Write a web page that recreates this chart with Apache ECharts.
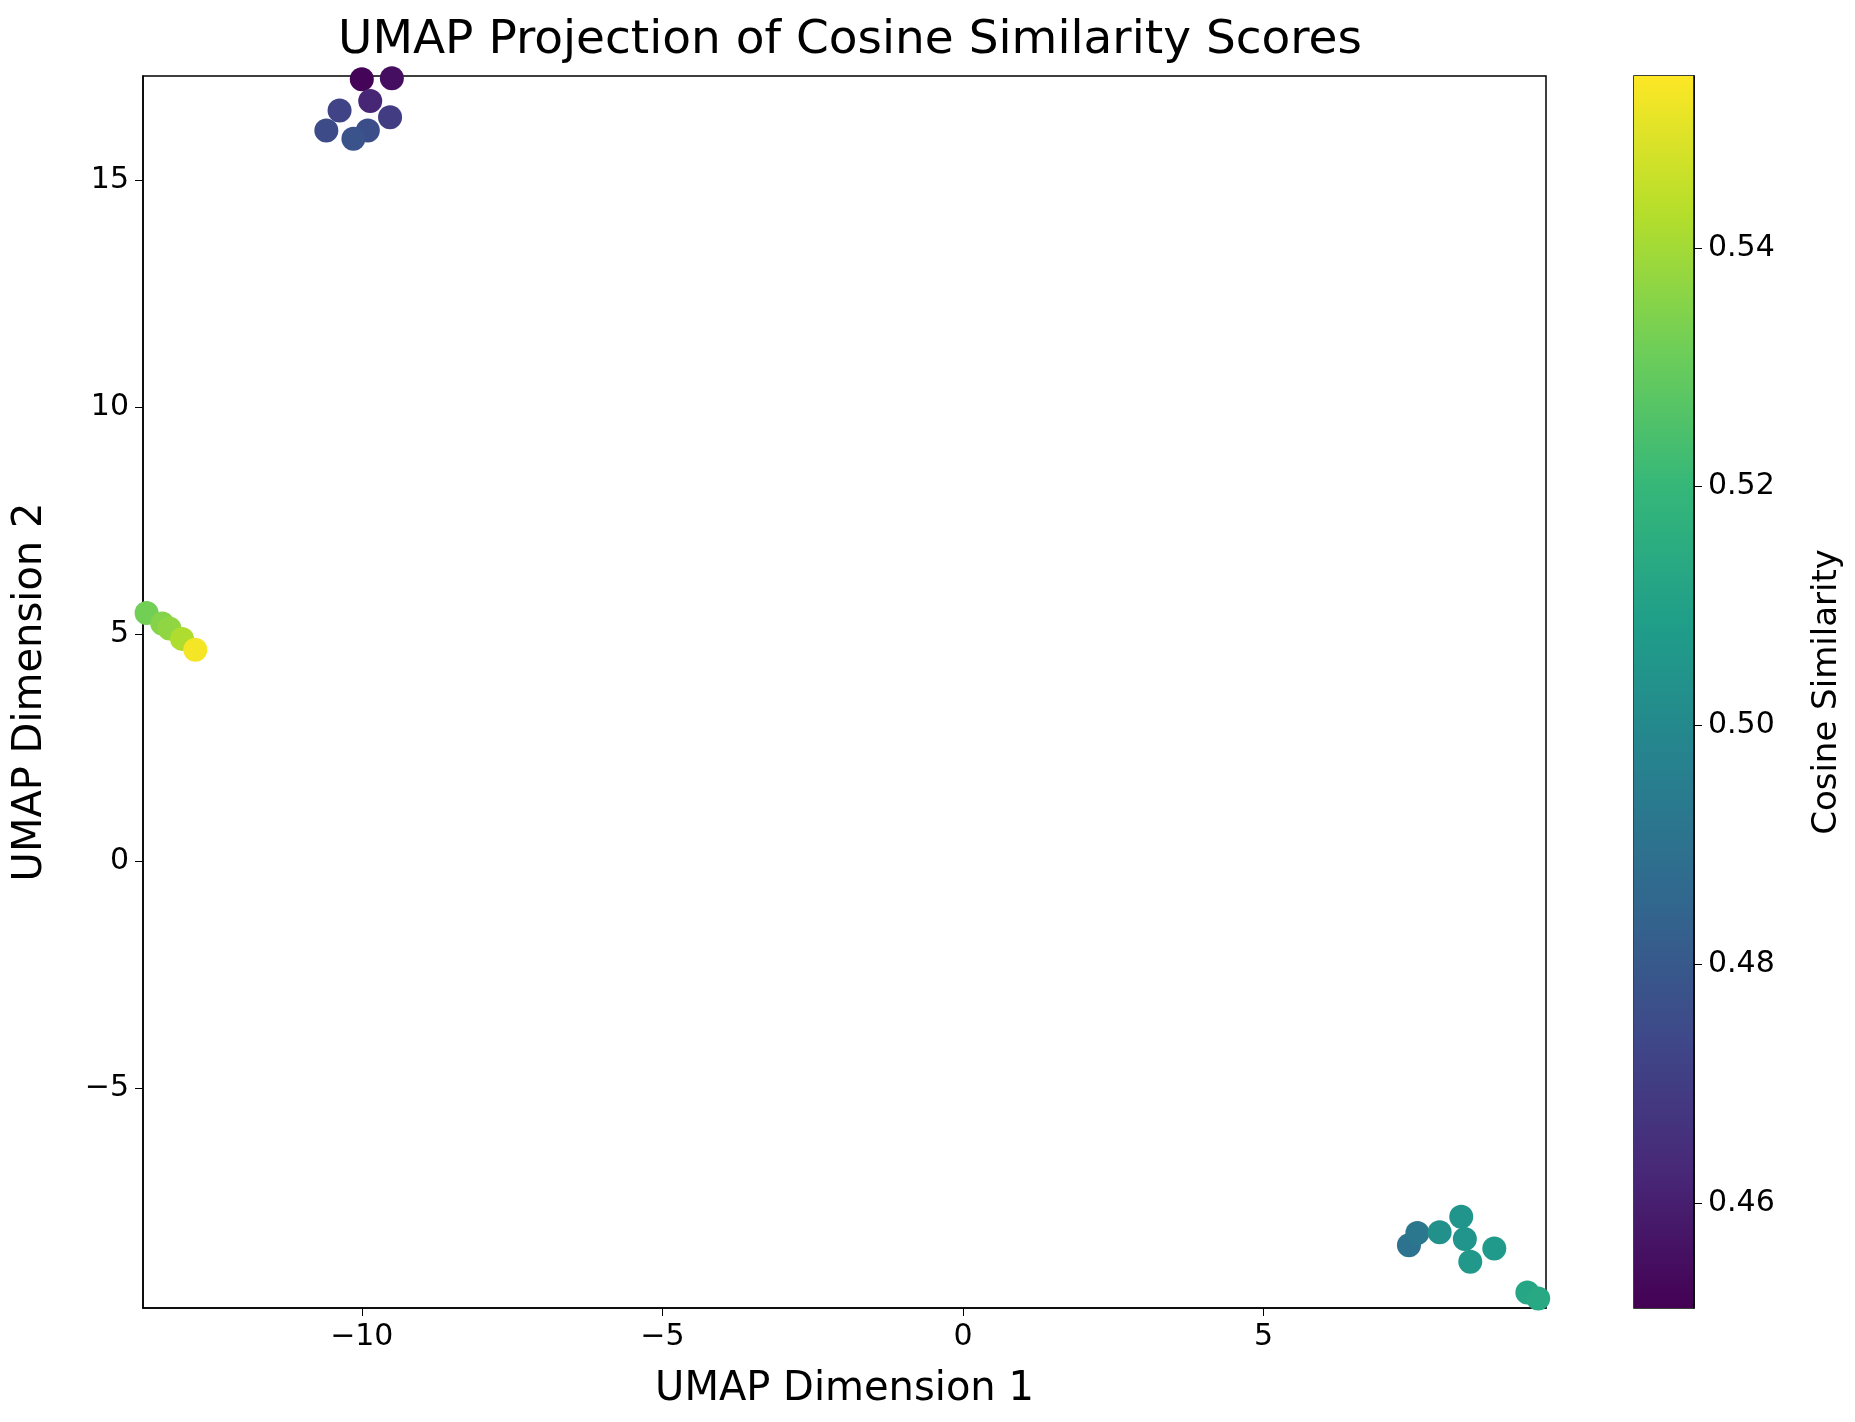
<!DOCTYPE html>
<html>
<head>
<meta charset="utf-8">
<script src="https://cdn.jsdelivr.net/npm/echarts@6/dist/echarts.min.js"></script>
<style>html,body{margin:0;padding:0;background:#fff}#main{width:1855px;height:1422px}</style>
</head>
<body>
<div id="main"></div>
<script>
// UMAP coordinates and cosine similarity of each point
var umapX = [-10.0, -9.5, -9.86, -10.37, -9.53, -10.59, -9.9, -10.14,
             -13.58, -13.32, -13.2, -12.99, -12.77,
             7.42, 7.56, 7.93, 8.29, 8.35, 8.44, 8.84, 9.39, 9.57];
var umapY = [17.23, 17.25, 16.75, 16.54, 16.39, 16.1, 16.1, 15.92,
             5.47, 5.24, 5.13, 4.9, 4.66,
             -8.46, -8.19, -8.17, -7.83, -8.32, -8.82, -8.53, -9.5, -9.63];
var simScore = [0.452, 0.455, 0.462, 0.472, 0.47, 0.475, 0.476, 0.478,
                0.532, 0.535, 0.537, 0.542, 0.553,
                0.49, 0.492, 0.503, 0.505, 0.505, 0.506, 0.507, 0.512, 0.513];
var xTicks = [-10, -5, 0, 5];
var yTicks = [-5, 0, 5, 10, 15];
var cbarTicks = [0.46, 0.48, 0.50, 0.52, 0.54];
var simMin = 0.4512, simMax = 0.5544;

var viridis = ['#440154','#482878','#3e4989','#31688e','#26828e','#1f9e89','#35b779','#6ece58','#b5de2b','#fde725'];

var points = [];
for (var i = 0; i < umapX.length; i++) {
  points.push([umapX[i], umapY[i], simScore[i]]);
}

var font = 'DejaVu Sans';
var axisLine = {show: true, onZero: false, lineStyle: {color: '#000', width: 1.5}};
function minus(v) { return v < 0 ? '\u2212' + (-v) : '' + v; }
var chart = echarts.init(document.getElementById('main'));
chart.setOption({
  backgroundColor: '#fff',
  textStyle: {fontFamily: font},
  animation: false,
  title: {
    text: 'UMAP Projection of Cosine Similarity Scores',
    left: 845, top: 12, textAlign: 'center',
    textStyle: {fontFamily: font, fontWeight: 'normal', fontSize: 47, color: '#000'}
  },
  grid: [
    {left: 143, top: 76, width: 1403, height: 1232, show: true, borderColor: '#000', borderWidth: 1.5},
    {left: 1634, top: 76, width: 60, height: 1232, show: true, borderColor: '#000', borderWidth: 1.5}
  ],
  visualMap: {
    show: false, dimension: 2, seriesIndex: 0,
    min: simMin, max: simMax,
    inRange: {color: viridis}
  },
  xAxis: [{
    gridIndex: 0, type: 'value', min: -13.64, max: 9.7,
    name: 'UMAP Dimension 1', nameLocation: 'middle', nameGap: 62,
    nameTextStyle: {fontSize: 40, color: '#000'},
    axisLine: axisLine, splitLine: {show: false},
    axisTick: {show: true, length: 8, lineStyle: {color: '#000'}, customValues: xTicks},
    axisLabel: {fontSize: 30, color: '#000', margin: 14, customValues: xTicks, formatter: minus}
  }, {
    gridIndex: 1, type: 'value', min: 0, max: 1, show: false
  }],
  yAxis: [{
    gridIndex: 0, type: 'value', min: -9.84, max: 17.3,
    name: 'UMAP Dimension 2', nameLocation: 'middle', nameGap: 92, nameRotate: 90,
    nameTextStyle: {fontSize: 40, color: '#000'},
    axisLine: axisLine, splitLine: {show: false},
    axisTick: {show: true, length: 8, lineStyle: {color: '#000'}, customValues: yTicks},
    axisLabel: {fontSize: 30, color: '#000', margin: 14, customValues: yTicks, formatter: minus}
  }, {
    gridIndex: 1, type: 'value', position: 'right', min: simMin, max: simMax,
    name: 'Cosine Similarity', nameLocation: 'middle', nameGap: 116, nameRotate: 90,
    nameTextStyle: {fontSize: 34, color: '#000'},
    axisLine: axisLine, splitLine: {show: false},
    axisTick: {show: true, length: 8, lineStyle: {color: '#000'}, customValues: cbarTicks},
    axisLabel: {fontSize: 30, color: '#000', margin: 14, customValues: cbarTicks,
      formatter: function (v) { return v.toFixed(2); }}
  }],
  graphic: [{
    type: 'rect', z: 0,
    shape: {x: 1634, y: 76, width: 60, height: 1232},
    style: {fill: new echarts.graphic.LinearGradient(0, 1, 0, 0, viridis.map(function (c, k) {
      return {offset: k / (viridis.length - 1), color: c};
    }))}
  }],
  series: [{
    type: 'scatter', xAxisIndex: 0, yAxisIndex: 0,
    symbolSize: 24, itemStyle: {opacity: 1}, data: points, clip: true
  }]
});
</script>
</body>
</html>
